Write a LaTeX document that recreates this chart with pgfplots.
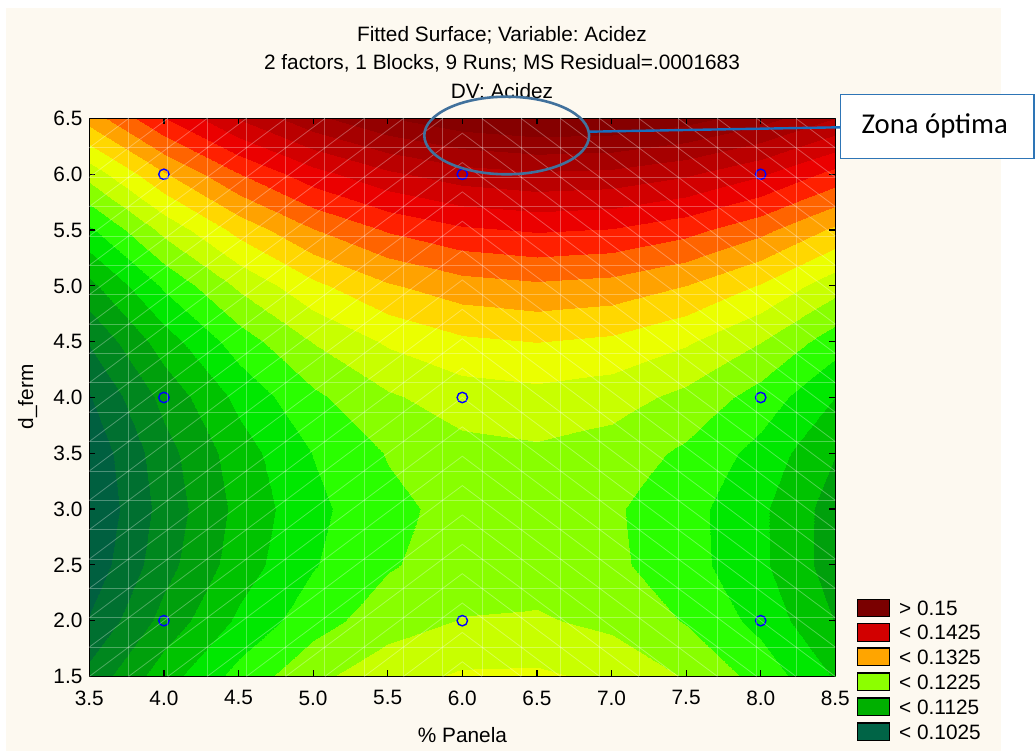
\documentclass[border=0pt]{standalone}
\usepackage{fontspec}
\setmainfont{Liberation Sans}
\newfontfamily\calibri{Carlito}
\usepackage{pgfplots}
\pgfplotsset{compat=1.18}
\definecolor{cream}{RGB}{253,249,240}
\definecolor{ellcol}{RGB}{65,113,156}
\definecolor{boxcol}{RGB}{46,117,182}
\definecolor{callcol}{RGB}{25,110,190}
\definecolor{lg1}{RGB}{122,0,0}
\definecolor{lg2}{RGB}{210,0,0}
\definecolor{lg3}{RGB}{255,165,0}
\definecolor{lg4}{RGB}{140,255,0}
\definecolor{lg5}{RGB}{0,176,0}
\definecolor{lg6}{RGB}{0,100,70}
\newcommand\fs{\fontsize{20.8}{25}\selectfont}
\begin{document}
\frenchspacing
\begin{tikzpicture}[x=1pt,y=1pt]
\useasboundingbox (0,0) rectangle (1035,751);
\fill[white] (0,0) rectangle (1035,751);
\fill[cream] (6,0) rectangle (1001,743);
\begin{axis}[
  at={(89.3pt,74.5pt)}, anchor=south west,
  scale only axis, width=746pt, height=558pt,
  view={0}{90},
  xmin=3.5, xmax=8.5, ymin=1.5, ymax=6.5,
  xtick={3.5,4,4.5,5,5.5,6,6.5,7,7.5,8,8.5},
  xticklabels={3.5,4.0,4.5,5.0,5.5,6.0,6.5,7.0,7.5,8.0,8.5},
  ytick={1.5,2,2.5,3,3.5,4,4.5,5,5.5,6,6.5},
  yticklabels={1.5,2.0,2.5,3.0,3.5,4.0,4.5,5.0,5.5,6.0,6.5},
  ztick=\empty,
  tick align=inside,
  major tick length=6pt,
  every tick/.style={black, line width=1.2pt},
  axis line style={black, line width=1.6pt},
  tick label style={font=\fs},
  xticklabel style={anchor=north, yshift=-10.6pt},
  yticklabel style={anchor=east, xshift=-3.4pt},
  colormap={acid}{
    rgb255=(0,85,70) rgb255=(0,96,64) rgb255=(0,112,48) rgb255=(0,135,30)
    rgb255=(0,160,12) rgb255=(0,195,0) rgb255=(0,232,0) rgb255=(42,255,0)
    rgb255=(136,255,0) rgb255=(200,255,0) rgb255=(235,255,0) rgb255=(255,215,0)
    rgb255=(255,162,0) rgb255=(255,100,0) rgb255=(255,32,0) rgb255=(235,0,0)
    rgb255=(210,0,0) rgb255=(186,0,0) rgb255=(166,0,0) rgb255=(148,0,0)
    rgb255=(134,0,0) rgb255=(128,0,0)},
  colormap access=piecewise constant,
  point meta min=0.1, point meta max=0.155,
]
\addplot3[surf, shader=interp] table {
x y z
3.5 1.5 0.10827
4.0 1.5 0.11390
4.5 1.5 0.11841
5.0 1.5 0.12183
5.5 1.5 0.12413
6.0 1.5 0.12533
6.5 1.5 0.12543
7.0 1.5 0.12442
7.5 1.5 0.12230
8.0 1.5 0.11908
8.5 1.5 0.11475

3.5 2.0 0.10519
4.0 2.0 0.11089
4.5 2.0 0.11549
5.0 2.0 0.11898
5.5 2.0 0.12136
6.0 2.0 0.12263
6.5 2.0 0.12280
7.0 2.0 0.12187
7.5 2.0 0.11982
8.0 2.0 0.11668
8.5 2.0 0.11242

3.5 2.5 0.10331
4.0 2.5 0.10909
4.5 2.5 0.11375
5.0 2.5 0.11732
5.5 2.5 0.11977
6.0 2.5 0.12112
6.5 2.5 0.12137
7.0 2.5 0.12051
7.5 2.5 0.11854
8.0 2.5 0.11547
8.5 2.5 0.11129

3.5 3.0 0.10262
4.0 3.0 0.10847
4.5 3.0 0.11321
5.0 3.0 0.11685
5.5 3.0 0.11938
6.0 3.0 0.12080
6.5 3.0 0.12112
7.0 3.0 0.12034
7.5 3.0 0.11844
8.0 3.0 0.11545
8.5 3.0 0.11134

3.5 3.5 0.10311
4.0 3.5 0.10904
4.5 3.5 0.11385
5.0 3.5 0.11757
5.5 3.5 0.12017
6.0 3.5 0.12167
6.5 3.5 0.12207
7.0 3.5 0.12136
7.5 3.5 0.11954
8.0 3.5 0.11662
8.5 3.5 0.11259

3.5 4.0 0.10480
4.0 4.0 0.11080
4.5 4.0 0.11569
5.0 4.0 0.11948
5.5 4.0 0.12216
6.0 4.0 0.12373
6.5 4.0 0.12420
7.0 4.0 0.12357
7.5 4.0 0.12183
8.0 4.0 0.11898
8.5 4.0 0.11502

3.5 4.5 0.10767
4.0 4.5 0.11375
4.5 4.5 0.11872
5.0 4.5 0.12258
5.5 4.5 0.12534
6.0 4.5 0.12699
6.5 4.5 0.12753
7.0 4.5 0.12697
7.5 4.5 0.12530
8.0 4.5 0.12253
8.5 4.5 0.11865

3.5 5.0 0.11174
4.0 5.0 0.11789
4.5 5.0 0.12293
5.0 5.0 0.12687
5.5 5.0 0.12970
6.0 5.0 0.13143
6.5 5.0 0.13205
7.0 5.0 0.13156
7.5 5.0 0.12997
8.0 5.0 0.12727
8.5 5.0 0.12347

3.5 5.5 0.11700
4.0 5.5 0.12322
4.5 5.5 0.12834
5.0 5.5 0.13236
5.5 5.5 0.13526
6.0 5.5 0.13706
6.5 5.5 0.13776
7.0 5.5 0.13735
7.5 5.5 0.13583
8.0 5.5 0.13321
8.5 5.5 0.12948

3.5 6.0 0.12345
4.0 6.0 0.12975
4.5 6.0 0.13494
5.0 6.0 0.13903
5.5 6.0 0.14201
6.0 6.0 0.14389
6.5 6.0 0.14466
7.0 6.0 0.14432
7.5 6.0 0.14288
8.0 6.0 0.14033
8.5 6.0 0.13667

3.5 6.5 0.13109
4.0 6.5 0.13746
4.5 6.5 0.14273
5.0 6.5 0.14689
5.5 6.5 0.14995
6.0 6.5 0.15190
6.5 6.5 0.15274
7.0 6.5 0.15248
7.5 6.5 0.15112
8.0 6.5 0.14864
8.5 6.5 0.14506
};
\addplot3[only marks, mark=o, mark size=5.2pt, draw=blue, mark options={line width=1.4pt, draw=blue, fill=none}]
  coordinates {(4,2,0.16) (4,4,0.16) (4,6,0.16) (6,2,0.16) (6,4,0.16) (6,6,0.16) (8,2,0.16) (8,4,0.16) (8,6,0.16)};
\end{axis}
% faint mesh of the fitted surface (19 x 19 cells)
\begin{scope}
\clip (89.3,74.5) rectangle (835.3,632.5);
\foreach \i in {1,...,18} {\draw[white, opacity=0.3, line width=0.8pt] ({89.3+\i*39.2632},74.5) -- ({89.3+\i*39.2632},632.5);}
\foreach \j in {1,...,18} {\draw[white, opacity=0.3, line width=0.8pt] (89.3,{74.5+\j*29.3684}) -- (835.3,{74.5+\j*29.3684});}
\end{scope}
\begin{scope}
\clip (89.3,74.5) rectangle (462.3,632.5);
\foreach \d in {-19,...,9} {\draw[white, opacity=0.3, line width=0.8pt] ({89.3+\d*39.2632},74.5) -- ({89.3+(\d+19)*39.2632},632.5);}
\end{scope}
\begin{scope}
\clip (462.3,74.5) rectangle (835.3,632.5);
\foreach \d in {-19,...,9} {\draw[white, opacity=0.3, line width=0.8pt] ({835.3-\d*39.2632},74.5) -- ({835.3-(\d+19)*39.2632},632.5);}
\end{scope}
% titles and labels
\node[anchor=base, font=\fs] at (502,709.7) {Fitted Surface; Variable: Acidez};
\node[anchor=base, font=\fs] at (502,681) {2 factors, 1 Blocks, 9 Runs; MS Residual=.0001683};
\node[anchor=base, font=\fs] at (502,652.3) {DV: Acidez};
\node[anchor=base, font=\fs] at (462.5,8.3) {\% Panela};
\node[anchor=base, rotate=90, font=\fs] at (33,354) {d\_ferm};
% legend
\draw[black, line width=1.3pt, fill=lg1] (857.3,134.2) rectangle (889.3,151.8);
\draw[black, line width=1.3pt, fill=lg2] (857.3,109.7) rectangle (889.3,127.3);
\draw[black, line width=1.3pt, fill=lg3] (857.3,85.4) rectangle (889.3,103.0);
\draw[black, line width=1.3pt, fill=lg4] (857.3,60.5) rectangle (889.3,78.1);
\draw[black, line width=1.3pt, fill=lg5] (857.3,35.5) rectangle (889.3,53.1);
\draw[black, line width=1.3pt, fill=lg6] (857.3,10.5) rectangle (889.3,28.1);
\node[anchor=base west, font=\fs, inner sep=0pt] at (899,135.6) {> 0.15};
\node[anchor=base west, font=\fs, inner sep=0pt] at (899,111.1) {< 0.1425};
\node[anchor=base west, font=\fs, inner sep=0pt] at (899,86.8) {< 0.1325};
\node[anchor=base west, font=\fs, inner sep=0pt] at (899,61.9) {< 0.1225};
\node[anchor=base west, font=\fs, inner sep=0pt] at (899,36.9) {< 0.1125};
\node[anchor=base west, font=\fs, inner sep=0pt] at (899,11.9) {< 0.1025};
% annotation
\draw[ellcol, line width=2.6pt] (506.7,615.5) ellipse [x radius=82.4, y radius=38.8];
\draw[callcol, line width=2.4pt] (589.5,619.3) -- (840.5,623.7);
\draw[boxcol, line width=1.5pt, fill=white] (840.5,592.7) rectangle (1034,656.7);
\node[anchor=base west, inner sep=0pt, font=\calibri\fontsize{28.7}{34}\selectfont] at (861.5,617) {Zona óptima};
\end{tikzpicture}
\end{document}
